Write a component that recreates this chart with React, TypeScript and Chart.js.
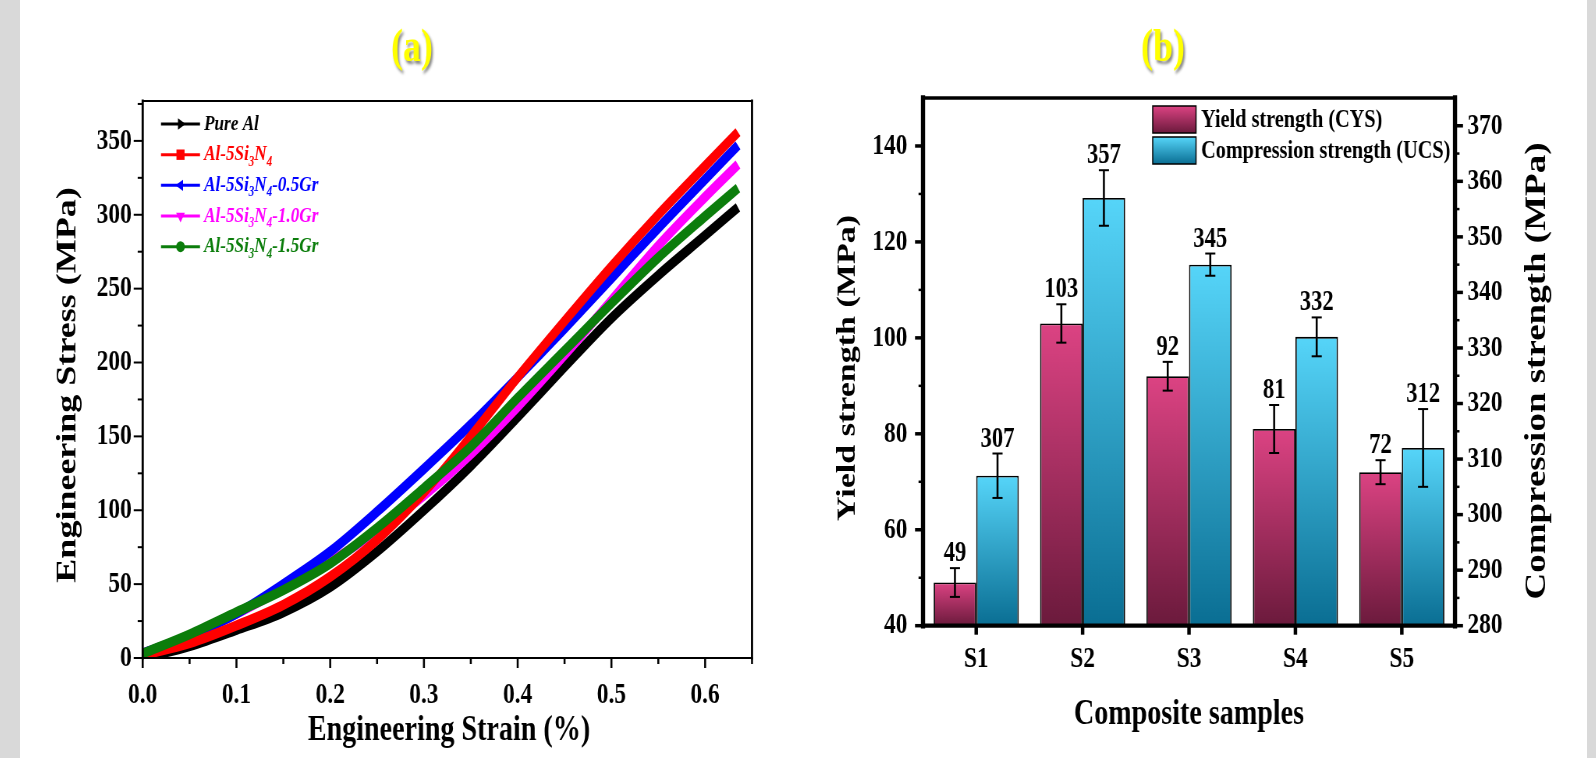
import React, { useEffect, useRef } from 'react';
import { Chart, registerables } from 'chart.js';

Chart.register(...registerables);

// ---------- global look ----------
const SX = 0.78; // horizontal squash of the reference figure
const FONT = '"Liberation Serif", "Times New Roman", Times, serif';
const GREY = '#d9d9d9';
const H = 758;

// ---------- Panel (a) data ----------
const strain = [0, 0.05, 0.1, 0.15, 0.2, 0.25, 0.3, 0.35, 0.4, 0.45, 0.5, 0.55, 0.6, 0.635];
const pureAl = [0, 8, 19, 31, 48, 72, 100, 130, 163, 197, 230, 259, 286, 305];
const al5 = [2, 10, 22, 36, 55, 80, 112, 150, 190, 228, 265, 300, 333, 356];
const gr05 = [3, 15, 30, 50, 72, 99, 128, 158, 190, 223, 257, 291, 324, 347];
const gr10 = [3, 15, 30, 47, 65, 86, 110, 138, 170, 205, 242, 279, 312, 334];
const gr15 = [3, 16, 31, 46, 64, 88, 115, 143, 176, 208, 240, 271, 299, 318];
const seriesLabels = ['Pure Al', 'Al-5Si₃N₄', 'Al-5Si₃N₄-0.5Gr', 'Al-5Si₃N₄-1.0Gr', 'Al-5Si₃N₄-1.5Gr'];
const seriesColors = ['#000000', '#ff0000', '#0000ff', '#ff00ff', '#0b7d0b'];
const seriesMarkers = ['triR', 'square', 'triL', 'triD', 'circle'];
const seriesOrder = [4, 1, 2, 3, 0];

// ---------- Panel (b) data ----------
const samples = ['S1', 'S2', 'S3', 'S4', 'S5'];
const cys = [49, 103, 92, 81, 72];
const cysErr = [3, 4, 3, 5, 2.5];
const ucs = [307, 357, 345, 332, 312];
const ucsErr = [4, 5, 2, 3.5, 7];
const cysGrad = ['#dc4383', '#6b1a3c'];
const ucsGrad = ['#56d5f9', '#0a6e93'];

// ---------- geometry ----------
const VA = 20, WA = 987;
const VB = 790, WB = 1022;
const toA = (v: number) => (v - VA) / SX;
const toB = (v: number) => (v - VB) / SX;

function line(ctx: CanvasRenderingContext2D, x1: number, y1: number, x2: number, y2: number) {
  ctx.beginPath();
  ctx.moveTo(x1, y1);
  ctx.lineTo(x2, y2);
  ctx.stroke();
}

function drawRotated(ctx: CanvasRenderingContext2D, text: string, x: number, y: number, font: string) {
  ctx.save();
  ctx.translate(x, y);
  ctx.rotate(-Math.PI / 2);
  ctx.font = font;
  ctx.fillStyle = '#000';
  ctx.textAlign = 'center';
  ctx.textBaseline = 'middle';
  ctx.fillText(text, 0, 0);
  ctx.restore();
}

function drawTitle(ctx: CanvasRenderingContext2D, text: string, x: number, y: number) {
  ctx.save();
  ctx.font = `bold 46px ${FONT}`;
  ctx.textAlign = 'center';
  ctx.textBaseline = 'middle';
  ctx.shadowColor = 'rgba(70,70,70,0.65)';
  ctx.shadowBlur = 3;
  ctx.shadowOffsetX = 2;
  ctx.shadowOffsetY = 3;
  ctx.fillStyle = '#ffff00';
  ctx.fillText(text, x, y);
  ctx.restore();
}

const SUB: Record<string, string> = { '₀': '0', '₁': '1', '₂': '2', '₃': '3', '₄': '4', '₅': '5', '₆': '6', '₇': '7', '₈': '8', '₉': '9' };

function drawRich(ctx: CanvasRenderingContext2D, text: string, x: number, y: number, color: string, size: number) {
  const runs: { t: string; sub: boolean }[] = [];
  for (const ch of Array.from(text)) {
    const sub = ch in SUB;
    const c = sub ? SUB[ch] : ch;
    const last = runs[runs.length - 1];
    if (last && last.sub === sub) last.t += c;
    else runs.push({ t: c, sub });
  }
  ctx.fillStyle = color;
  ctx.textAlign = 'left';
  ctx.textBaseline = 'middle';
  let px = x;
  for (const r of runs) {
    ctx.font = r.sub ? `italic bold ${Math.round(size * 0.62)}px ${FONT}` : `italic bold ${size}px ${FONT}`;
    ctx.fillText(r.t, px, r.sub ? y + size * 0.33 : y);
    px += ctx.measureText(r.t).width;
  }
}

function drawMarker(ctx: CanvasRenderingContext2D, kind: string, x: number, y: number, r: number, color: string) {
  ctx.fillStyle = color;
  ctx.beginPath();
  if (kind === 'square') {
    ctx.rect(x - r * 0.8, y - r * 0.8, r * 1.6, r * 1.6);
  } else if (kind === 'circle') {
    ctx.arc(x, y, r * 0.85, 0, Math.PI * 2);
  } else {
    const ang = kind === 'triR' ? 0 : kind === 'triL' ? Math.PI : Math.PI / 2;
    for (let k = 0; k < 3; k++) {
      const a = ang + (k * 2 * Math.PI) / 3;
      const px = x + Math.cos(a) * r;
      const py = y + Math.sin(a) * r;
      if (k === 0) ctx.moveTo(px, py);
      else ctx.lineTo(px, py);
    }
    ctx.closePath();
  }
  ctx.fill();
}

// ---------- Panel (a) decorations ----------
const decorA = {
  id: 'decorA',
  afterDraw(chart: any) {
    const { ctx, chartArea: a } = chart;
    const xs = chart.scales.x;
    const ys = chart.scales.y;
    ctx.save();
    ctx.strokeStyle = '#000';
    ctx.lineCap = 'square';
    ctx.lineWidth = 2.2;
    line(ctx, a.left, a.top, a.right, a.top);
    line(ctx, a.left, a.bottom, a.right, a.bottom);
    ctx.lineWidth = 2.2 / SX;
    line(ctx, a.left, a.top, a.left, a.bottom);
    line(ctx, a.right, a.top, a.right, a.bottom);
    ctx.lineCap = 'butt';
    // x ticks (major 0.1, minor 0.05)
    ctx.lineWidth = 2 / SX;
    for (let i = 0; i * 0.05 <= xs.max + 1e-9; i++) {
      const px = xs.getPixelForValue(i * 0.05);
      line(ctx, px, a.bottom, px, a.bottom + (i % 2 === 0 ? 10 : 6));
    }
    // y ticks (major 50, minor 25)
    ctx.lineWidth = 2;
    for (let i = 0; i * 25 <= ys.max; i++) {
      const py = ys.getPixelForValue(i * 25);
      const len = (i % 2 === 0 ? 9 : 5) / SX;
      line(ctx, a.left - len, py, a.left, py);
    }
    // legend
    const rows = [124, 154.7, 185.3, 216, 246.7];
    chart.data.datasets.forEach((ds: any, i: number) => {
      const y = rows[i];
      ctx.strokeStyle = ds.borderColor;
      ctx.lineWidth = 3;
      line(ctx, toA(161), y, toA(200), y);
      drawMarker(ctx, seriesMarkers[i], toA(180.5), y, 6.5, ds.borderColor);
      drawRich(ctx, ds.label, toA(204), y, ds.borderColor, 22);
    });
    // titles
    drawTitle(ctx, '(a)', toA(412), 49);
    drawRotated(ctx, 'Engineering Stress (MPa)', toA(68), 385, `bold 36px ${FONT}`);
    ctx.font = `bold 36px ${FONT}`;
    ctx.fillStyle = '#000';
    ctx.textAlign = 'center';
    ctx.textBaseline = 'middle';
    ctx.fillText('Engineering Strain (%)', toA(449), 731);
    ctx.restore();
  },
};

// ---------- Panel (b) decorations ----------
const errSets = [cysErr, ucsErr];

function barGradient(stops: string[], axisId: string) {
  return (c: any) => {
    const chart = c.chart;
    const sc = chart.scales ? chart.scales[axisId] : null;
    if (!chart.chartArea || !sc || c.type !== 'data') return stops[0];
    const v = c.parsed && c.parsed.y != null ? c.parsed.y : c.raw;
    const top = sc.getPixelForValue(v);
    const bottom = sc.getPixelForValue(sc.min);
    const g = chart.ctx.createLinearGradient(0, top, 0, bottom);
    g.addColorStop(0, stops[0]);
    g.addColorStop(1, stops[1]);
    return g;
  };
}

const decorB = {
  id: 'decorB',
  afterDatasetsDraw(chart: any) {
    const { ctx } = chart;
    ctx.save();
    chart.data.datasets.forEach((ds: any, di: number) => {
      const meta = chart.getDatasetMeta(di);
      const sc = chart.scales[ds.yAxisID];
      meta.data.forEach((el: any, j: number) => {
        const v = ds.data[j];
        const e = errSets[di][j];
        const x = el.x;
        const yT = sc.getPixelForValue(v + e);
        const yB = sc.getPixelForValue(v - e);
        ctx.strokeStyle = '#000';
        ctx.lineWidth = 2 / SX;
        line(ctx, x, yT, x, yB);
        ctx.lineWidth = 2;
        line(ctx, x - 6.5, yT, x + 6.5, yT);
        line(ctx, x - 6.5, yB, x + 6.5, yB);
        ctx.font = `bold 29px ${FONT}`;
        ctx.fillStyle = '#000';
        ctx.textAlign = 'center';
        ctx.textBaseline = 'alphabetic';
        ctx.fillText(String(v), x, yT - 7);
      });
    });
    ctx.restore();
  },
  afterDraw(chart: any) {
    const { ctx, chartArea: a } = chart;
    const xs = chart.scales.x;
    const yl = chart.scales.y;
    const yr = chart.scales.y2;
    ctx.save();
    ctx.strokeStyle = '#000';
    ctx.lineCap = 'square';
    ctx.lineWidth = 3.5;
    line(ctx, a.left, a.top, a.right, a.top);
    ctx.lineWidth = 4.2;
    line(ctx, a.left, a.bottom, a.right, a.bottom);
    ctx.lineWidth = 4.2 / SX;
    line(ctx, a.left, a.top, a.left, a.bottom);
    line(ctx, a.right, a.top, a.right, a.bottom);
    ctx.lineCap = 'butt';
    // category ticks
    ctx.lineWidth = 3.5 / SX;
    chart.data.labels.forEach((_: any, i: number) => {
      const px = xs.getPixelForValue(i);
      line(ctx, px, a.bottom, px, a.bottom + 9);
    });
    // left ticks
    for (let v = yl.min; v < yl.max; v += 10) {
      const py = yl.getPixelForValue(v);
      const major = (v - yl.min) % 20 === 0;
      ctx.lineWidth = major ? 3.5 : 2.5;
      const len = (major ? 8 : 4.5) / SX;
      line(ctx, a.left - len, py, a.left, py);
    }
    // right ticks
    for (let v = yr.min; v < yr.max; v += 5) {
      const py = yr.getPixelForValue(v);
      const major = (v - yr.min) % 10 === 0;
      ctx.lineWidth = major ? 3.5 : 2.5;
      const len = (major ? 8 : 4.5) / SX;
      line(ctx, a.right, py, a.right + len, py);
    }
    // legend
    const tops = [106, 137];
    const grads = [cysGrad, ucsGrad];
    chart.data.datasets.forEach((ds: any, i: number) => {
      const x1 = toB(1152.7);
      const x2 = toB(1196);
      const t = tops[i];
      const g = ctx.createLinearGradient(0, t, 0, t + 27);
      g.addColorStop(0, grads[i][0]);
      g.addColorStop(1, grads[i][1]);
      ctx.fillStyle = g;
      ctx.fillRect(x1, t, x2 - x1, 27);
      ctx.strokeStyle = '#000';
      ctx.lineWidth = 1.5;
      ctx.strokeRect(x1, t, x2 - x1, 27);
      ctx.font = `bold 26px ${FONT}`;
      ctx.fillStyle = '#000';
      ctx.textAlign = 'left';
      ctx.textBaseline = 'middle';
      ctx.fillText(ds.label, toB(1201), t + 14);
    });
    // titles
    drawTitle(ctx, '(b)', toB(1163), 49);
    drawRotated(ctx, 'Yield strength (MPa)', toB(848), 368, `bold 34px ${FONT}`);
    drawRotated(ctx, 'Compression strength (MPa)', toB(1537.5), 371, `bold 37px ${FONT}`);
    ctx.font = `bold 36px ${FONT}`;
    ctx.fillStyle = '#000';
    ctx.textAlign = 'center';
    ctx.textBaseline = 'middle';
    ctx.fillText('Composite samples', toB(1189), 715);
    ctx.restore();
  },
};

const tickFont = { family: FONT, size: 30, weight: 'bold' as const };

function configA(): any {
  const stressSeries = [pureAl, al5, gr05, gr10, gr15];
  return {
    type: 'line',
    data: {
      datasets: stressSeries.map((arr, i) => ({
        label: seriesLabels[i],
        data: strain.map((x, j) => ({ x, y: arr[j] })),
        borderColor: seriesColors[i],
        backgroundColor: seriesColors[i],
        borderWidth: 10,
        pointRadius: 0,
        cubicInterpolationMode: 'monotone',
        fill: false,
        order: seriesOrder[i],
      })),
    },
    options: {
      animation: false,
      responsive: false,
      devicePixelRatio: 1,
      layout: { padding: { left: 0, right: WA - toA(752), top: 101, bottom: 0 } },
      plugins: { legend: { display: false }, tooltip: { enabled: false }, title: { display: false } },
      scales: {
        x: {
          type: 'linear',
          min: 0,
          max: 0.65,
          grid: { display: false, drawTicks: false },
          border: { display: false },
          ticks: {
            stepSize: 0.1,
            includeBounds: false,
            autoSkip: false,
            maxRotation: 0,
            padding: 19,
            color: '#000',
            font: tickFont,
            callback: (v: any) => Number(v).toFixed(1),
          },
          afterFit: (s: any) => { s.height = H - 658; },
        },
        y: {
          type: 'linear',
          min: 0,
          max: 377,
          grid: { display: false, drawTicks: false },
          border: { display: false },
          ticks: { stepSize: 50, includeBounds: false, autoSkip: false, padding: 14, color: '#000', font: tickFont },
          afterFit: (s: any) => { s.width = toA(142.7); },
        },
      },
    },
    plugins: [decorA],
  };
}

function configB(): any {
  return {
    type: 'bar',
    data: {
      labels: samples,
      datasets: [
        {
          label: 'Yield strength (CYS)',
          data: cys,
          yAxisID: 'y',
          backgroundColor: barGradient(cysGrad, 'y'),
          borderColor: '#000',
          borderWidth: 1.8,
          categoryPercentage: 0.8,
          barPercentage: 1.0,
        },
        {
          label: 'Compression strength (UCS)',
          data: ucs,
          yAxisID: 'y2',
          backgroundColor: barGradient(ucsGrad, 'y2'),
          borderColor: '#000',
          borderWidth: 1.8,
          categoryPercentage: 0.8,
          barPercentage: 1.0,
        },
      ],
    },
    options: {
      animation: false,
      responsive: false,
      devicePixelRatio: 1,
      layout: { padding: { left: 0, right: 0, top: 98, bottom: 0 } },
      plugins: { legend: { display: false }, tooltip: { enabled: false }, title: { display: false } },
      scales: {
        x: {
          type: 'category',
          grid: { display: false, drawTicks: false },
          border: { display: false },
          ticks: { autoSkip: false, maxRotation: 0, padding: 16, color: '#000', font: tickFont },
          afterFit: (s: any) => { s.height = H - 625.7; },
        },
        y: {
          type: 'linear',
          position: 'left',
          min: 40,
          max: 150,
          grid: { display: false, drawTicks: false },
          border: { display: false },
          ticks: { stepSize: 20, includeBounds: false, autoSkip: false, padding: 20, color: '#000', font: tickFont },
          afterFit: (s: any) => { s.width = toB(923); },
        },
        y2: {
          type: 'linear',
          position: 'right',
          min: 280,
          max: 375,
          grid: { display: false, drawTicks: false },
          border: { display: false },
          ticks: { stepSize: 10, includeBounds: false, autoSkip: false, padding: 16, color: '#000', font: tickFont },
          afterFit: (s: any) => { s.width = WB - toB(1455); },
        },
      },
    },
    plugins: [decorB],
  };
}

export default function App() {
  const refA = useRef<HTMLCanvasElement>(null);
  const refB = useRef<HTMLCanvasElement>(null);
  useEffect(() => {
    const a = new Chart(refA.current as HTMLCanvasElement, configA());
    const b = new Chart(refB.current as HTMLCanvasElement, configB());
    return () => {
      a.destroy();
      b.destroy();
    };
  }, []);
  const wrap = (left: number, w: number): React.CSSProperties => ({
    position: 'absolute',
    left,
    top: 0,
    width: w,
    height: H,
    transform: `scaleX(${SX})`,
    transformOrigin: '0 0',
  });
  return (
    <div style={{ position: 'fixed', left: 0, top: 0, width: 1596, height: H, background: '#fff', overflow: 'hidden' }}>
      <div style={{ position: 'absolute', left: 0, top: 0, width: 20, height: H, background: GREY }} />
      <div style={{ position: 'absolute', left: 1587, top: 0, width: 9, height: H, background: GREY }} />
      <div style={wrap(VA, WA)}>
        <canvas ref={refA} width={WA} height={H} style={{ display: 'block', width: WA, height: H }} />
      </div>
      <div style={wrap(VB, WB)}>
        <canvas ref={refB} width={WB} height={H} style={{ display: 'block', width: WB, height: H }} />
      </div>
    </div>
  );
}
